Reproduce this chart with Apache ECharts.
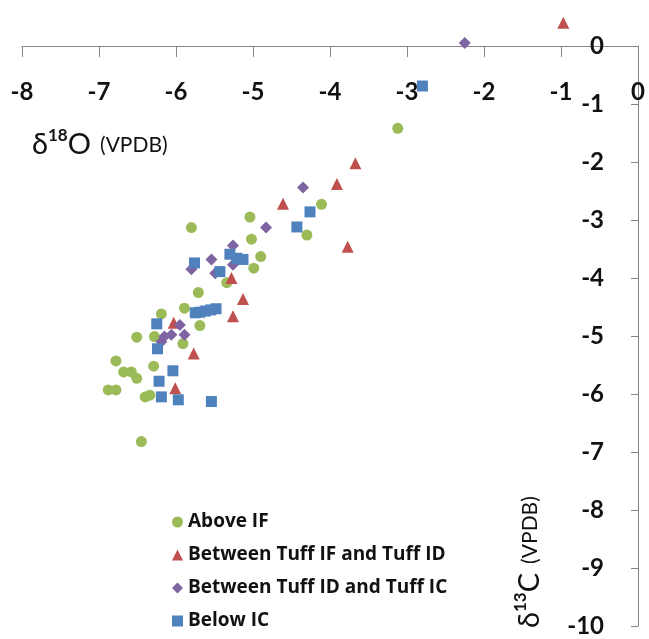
<!DOCTYPE html>
<html>
<head>
<meta charset="utf-8">
<title>d18O vs d13C</title>
<script src="https://cdn.jsdelivr.net/npm/echarts@6/dist/echarts.min.js"></script>
<style>
    html, body { margin: 0; padding: 0; background: #fff; }
    #main { width: 649px; height: 639px; }
</style>
</head>
<body>
<div id="main"></div>
<script>
// ******* data: [d18O, d13C] *******
var aboveIF = [
    [-3.12, -1.42], [-4.11, -2.73], [-4.30, -3.26], [-5.04, -2.95], [-5.02, -3.33],
    [-4.90, -3.63], [-4.99, -3.83], [-5.80, -3.13], [-5.34, -4.08], [-5.71, -4.25],
    [-5.89, -4.52], [-6.19, -4.62], [-5.69, -4.82], [-6.51, -5.02], [-6.28, -5.01],
    [-5.91, -5.13], [-6.78, -5.43], [-6.29, -5.52], [-6.68, -5.62], [-6.58, -5.62],
    [-6.51, -5.73], [-6.88, -5.93], [-6.78, -5.93], [-6.40, -6.05], [-6.34, -6.02],
    [-6.45, -6.82]
];
var betweenIFandID = [
    [-0.97, 0.40], [-3.67, -2.02], [-3.91, -2.38], [-4.61, -2.72], [-3.77, -3.46],
    [-5.28, -4.00], [-5.13, -4.36], [-5.26, -4.66], [-6.03, -4.77], [-5.77, -5.30],
    [-6.01, -5.90]
];
var betweenIDandIC = [
    [-2.25, 0.05], [-4.35, -2.44], [-4.83, -3.13], [-5.26, -3.44], [-5.54, -3.68],
    [-5.26, -3.77], [-5.80, -3.85], [-5.49, -3.92], [-5.95, -4.81], [-6.15, -5.01],
    [-6.06, -4.98], [-5.89, -4.98], [-6.19, -5.10]
];
var belowIC = [
    [-2.80, -0.69], [-4.26, -2.86], [-4.43, -3.12], [-5.30, -3.59], [-5.21, -3.66],
    [-5.13, -3.68], [-5.76, -3.74], [-5.43, -3.89], [-5.75, -4.60], [-5.69, -4.59],
    [-5.62, -4.57], [-5.55, -4.55], [-5.48, -4.53], [-6.25, -4.79], [-6.24, -5.22],
    [-6.04, -5.60], [-6.22, -5.78], [-6.19, -6.05], [-5.97, -6.10], [-5.54, -6.13]
];
var seriesNames = ['Above IF', 'Between Tuff IF and Tuff ID', 'Between Tuff ID and Tuff IC', 'Below IC'];
var xRange = [-8, 0];
var yRange = [-10, 0];

var labelFont = 'Lato, "Liberation Sans", sans-serif';
var legendFont = '"Open Sans", Lato, sans-serif';
var axisColor = '#868686';

var myChart = echarts.init(document.getElementById('main'), null, { renderer: 'canvas' });

function scatter(name, data, symbol, size, color) {
    return {
        name: name,
        type: 'scatter',
        data: data,
        symbol: symbol,
        symbolSize: size,
        clip: false,
        itemStyle: { color: color, opacity: 1 },
        emphasis: { disabled: true }
    };
}

// axis title: delta + superscript isotope + element + (VPDB)
function isoTitle(sup, elem) {
    return {
        text: '{a|δ}{s|' + sup + '}{a|' + elem + '}{b|(VPDB)}',
        fill: '#111',
        rich: {
            a: { fontSize: 29, lineHeight: 32, fontFamily: labelFont, verticalAlign: 'bottom', fill: '#111' },
            s: { fontSize: 17, lineHeight: 17, fontFamily: labelFont, fontWeight: 'bold', verticalAlign: 'top', fill: '#111' },
            b: { fontSize: 21, lineHeight: 21, fontFamily: labelFont, verticalAlign: 'bottom', padding: [0, 0, 3, 9], fill: '#111' }
        }
    };
}

var option = {
    backgroundColor: '#fff',
    animation: false,
    grid: { left: 22, right: 11, top: 46, bottom: 13, containLabel: false },
    // x axis sits on y = 0, which is the top edge of the plot
    xAxis: {
        type: 'value',
        min: xRange[0], max: xRange[1], interval: 1,
        position: 'top',
        axisLine: { onZero: false, lineStyle: { color: axisColor, width: 1 } },
        axisTick: { show: true, inside: true, length: 11, lineStyle: { color: axisColor } },
        axisLabel: {
            inside: true, margin: 34, color: '#111', fontSize: 24, fontWeight: 'bold', fontFamily: labelFont,
            showMinLabel: true, showMaxLabel: true
        },
        splitLine: { show: false }
    },
    yAxis: {
        type: 'value',
        min: yRange[0], max: yRange[1], interval: 1,
        position: 'right',
        axisLine: { onZero: false, lineStyle: { color: axisColor, width: 1 } },
        axisTick: { show: true, inside: true, length: 7, lineStyle: { color: axisColor } },
        axisLabel: {
            inside: true, margin: 34, color: '#111', fontSize: 24, fontWeight: 'bold', fontFamily: labelFont,
            showMinLabel: true, showMaxLabel: true
        },
        splitLine: { show: false }
    },
    legend: {
        orient: 'vertical',
        left: 167, top: 507,
        itemWidth: 11, itemHeight: 11,
        itemGap: 13,
        data: seriesNames,
        textStyle: { color: '#111', fontSize: 19, lineHeight: 20, fontWeight: 'bold', fontFamily: legendFont }
    },
    graphic: [
        { type: 'text', left: 32, top: 127, style: isoTitle('18', 'O') },
        { type: 'text', x: 512, y: 628, rotation: Math.PI / 2, style: isoTitle('13', 'C') }
    ],
    series: [
        scatter(seriesNames[0], aboveIF, 'circle', 11, '#9BBB59'),
        scatter(seriesNames[1], betweenIFandID, 'triangle', 12, '#C0504D'),
        scatter(seriesNames[2], betweenIDandIC, 'diamond', 12, '#8064A2'),
        scatter(seriesNames[3], belowIC, 'rect', 11, '#4F81BD')
    ]
};

myChart.setOption(option);
</script>
</body>
</html>
